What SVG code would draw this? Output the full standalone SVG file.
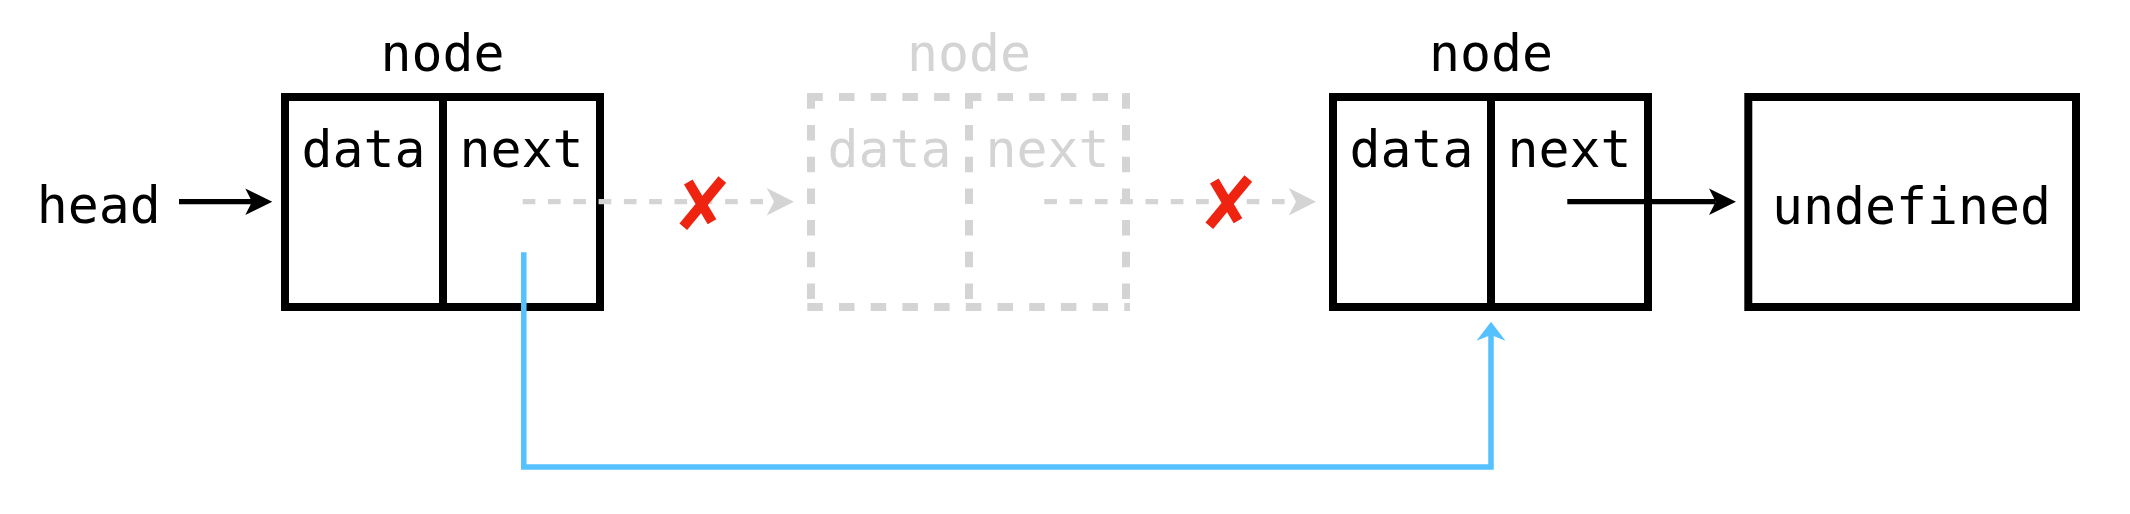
<svg xmlns="http://www.w3.org/2000/svg" xmlns:xlink="http://www.w3.org/1999/xlink" width="2130" height="514" viewBox="0 0 2130 514">
  <style>
    text { font-family: "DejaVu Sans Mono", "Liberation Mono", monospace; font-size: 51.5px; text-anchor: middle; }
    .ink { fill: #000000; }
    .ghost { fill: #d4d4d4; }
    .box { fill: none; stroke: #000000; stroke-width: 8; }
    .gbox { fill: none; stroke: #d4d4d4; stroke-width: 8; stroke-dasharray: 15.5 16.2; }
    .arrow { fill: none; stroke: #000000; stroke-width: 5.3; }
    .garrow { fill: none; stroke: #d4d4d4; stroke-width: 5.3; stroke-dasharray: 12.65 12.65; }
    .barrow { fill: none; stroke: #56c1ff; stroke-width: 5.5; }
    .cross { fill: none; stroke: #ee2310; stroke-width: 10; stroke-linecap: butt; }
  </style>
  <defs>
    <marker id="ahBlack" markerUnits="userSpaceOnUse" markerWidth="40" markerHeight="40" refX="0" refY="0" orient="auto" overflow="visible">
      <path d="M20.3,0 L-6.7,-13.3 L0,0 L-6.7,13.3 Z" fill="#000000"/>
    </marker>
    <marker id="ahGray" markerUnits="userSpaceOnUse" markerWidth="40" markerHeight="40" refX="0" refY="0" orient="auto" overflow="visible">
      <path d="M20,0 L-7.3,-13.7 L0,0 L-7.3,13.7 Z" fill="#d4d4d4"/>
    </marker>
    <marker id="ahBlue" markerUnits="userSpaceOnUse" markerWidth="40" markerHeight="40" refX="0" refY="0" orient="auto" overflow="visible">
      <path d="M13.3,0 L-5.7,-14.5 L0,0 L-5.7,14.5 Z" fill="#56c1ff"/>
    </marker>
    <g id="xmark">
      <line class="cross" x1="722.3" y1="179.5" x2="683.3" y2="226.7"/>
      <line class="cross" x1="688.3" y1="182" x2="712" y2="221.7"/>
    </g>
  </defs>

  <rect x="0" y="0" width="2130" height="514" fill="#ffffff"/>

  <g id="head">
    <text class="ink" x="98.7" y="223.3">head</text>
  </g>

  <g id="node1">
    <text class="ink" x="442.5" y="71.3">node</text>
    <rect class="box" x="285" y="97" width="315" height="210"/>
    <line class="box" x1="443" y1="97" x2="443" y2="307"/>
    <text class="ink" x="363.5" y="167.3">data</text>
    <text class="ink" x="521.5" y="167.3">next</text>
  </g>

  <g id="node2-removed">
    <text class="ghost" x="969" y="71.3">node</text>
    <path class="gbox" d="M807.3,97 H1130 M807.3,307 H1130 M811,93.3 V310.7 M1126,93.3 V310.7 M969,93.3 V310.7"/>
    <text class="ghost" x="889.5" y="167.3">data</text>
    <text class="ghost" x="1047.5" y="167.3">next</text>
  </g>

  <g id="node3">
    <text class="ink" x="1491" y="71.3">node</text>
    <rect class="box" x="1333" y="97" width="315" height="210"/>
    <line class="box" x1="1491" y1="97" x2="1491" y2="307"/>
    <text class="ink" x="1411.5" y="167.3">data</text>
    <text class="ink" x="1569.5" y="167.3">next</text>
  </g>

  <g id="undefined">
    <rect class="box" x="1748.3" y="97" width="327.7" height="210"/>
    <text class="ink" x="1911.5" y="224">undefined</text>
  </g>

  <g id="connectors">
    <line class="arrow" x1="179" y1="201.7" x2="252" y2="201.7" marker-end="url(#ahBlack)"/>
    <line class="garrow" x1="522.7" y1="201.7" x2="774" y2="201.7" marker-end="url(#ahGray)"/>
    <line class="garrow" x1="1044.3" y1="201.7" x2="1296" y2="201.7" marker-end="url(#ahGray)"/>
    <line class="arrow" x1="1567.3" y1="201.7" x2="1715.7" y2="201.7" marker-end="url(#ahBlack)"/>
    <path class="barrow" d="M523.8,252.3 V467 H1491 V335" marker-end="url(#ahBlue)"/>
    <use xlink:href="#xmark"/>
    <use xlink:href="#xmark" transform="translate(526,-1)"/>
  </g>
</svg>
